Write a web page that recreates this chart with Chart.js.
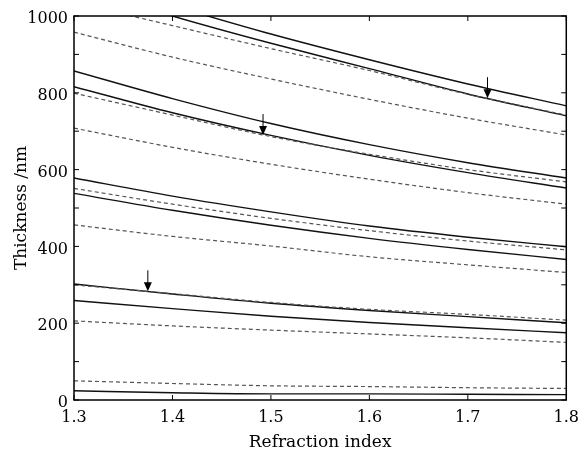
<!DOCTYPE html>
<html>
<head>
<meta charset="utf-8">
<script src="https://cdn.jsdelivr.net/npm/chart.js@4.4.0/dist/chart.umd.min.js"></script>
<style>
  html, body { margin: 0; padding: 0; background: #fff; }
</style>
</head>
<body>
<canvas id="myChart" width="587" height="451"></canvas>
<script>
// refraction index samples
var nIndex = [1.3, 1.4, 1.5, 1.6, 1.7, 1.8];

// solid curves (thickness, nm)
var s1 = [1105, 1027, 953, 886, 823, 766];
var s2 = [1080, 1000, 929, 863, 797, 740];
var s3 = [857, 785, 720, 665, 618, 578];
var s4 = [816, 748, 689, 637, 592, 552];
var s5 = [578, 531, 490, 453, 424, 399];
var s6 = [538, 494, 455, 421, 392, 366];
var s7 = [302, 276, 252, 233, 217, 201];
var s8 = [259, 238, 218, 202, 188, 175];
var s9 = [24, 19, 16, 16, 15, 14];

// dashed curves
var d1 = [1035, 975, 915, 858, 796, 742];
var d2 = [958, 893, 836, 783, 734, 690];
var d3 = [799, 742, 686, 640, 600, 568];
var d4 = [708, 658, 614, 575, 540, 510];
var d5 = [551, 510, 473, 441, 414, 391];
var d6 = [456, 426, 401, 373, 352, 332];
var d7 = [300, 277, 254, 236, 223, 208];
var d8 = [206, 193, 182, 172, 162, 150];
var d9 = [50, 43, 37, 35, 32, 30];

// arrows: position on the curve they point at
var arrowN = [1.375, 1.492, 1.72];
var arrowT = [283, 690, 786];

// ticks
var xTicks = [1.3, 1.4, 1.5, 1.6, 1.7, 1.8];
var yTicks = [0, 200, 400, 600, 800, 1000];
var yMinor = [100, 300, 500, 700, 900];

var solids = [s1, s2, s3, s4, s5, s6, s7, s8, s9];
var dashes = [d1, d2, d3, d4, d5, d6, d7, d8, d9];

function pts(arr) {
    return arr.map(function (v, i) { return { x: nIndex[i], y: v }; });
}

var datasets = [];
dashes.forEach(function (d, i) {
    datasets.push({
        label: "d" + (i + 1),
        data: pts(d),
        borderColor: "#555",
        borderWidth: 1.2,
        borderDash: [4, 3],
        pointRadius: 0,
        cubicInterpolationMode: "monotone",
        fill: false
    });
});
solids.forEach(function (s, i) {
    datasets.push({
        label: "s" + (i + 1),
        data: pts(s),
        borderColor: "#111",
        borderWidth: 1.4,
        pointRadius: 0,
        cubicInterpolationMode: "monotone",
        fill: false
    });
});

var framePlugin = {
    id: "frame",
    afterDatasetsDraw: function (chart) {
        var ctx = chart.ctx, a = chart.chartArea;
        var x = chart.scales.x, y = chart.scales.y;
        ctx.save();
        ctx.strokeStyle = "#000";
        ctx.lineWidth = 1.5;
        ctx.strokeRect(a.left, a.top, a.right - a.left, a.bottom - a.top);

        // inward tick marks
        ctx.lineWidth = 1;
        ctx.beginPath();
        xTicks.forEach(function (v) {
            var px = x.getPixelForValue(v);
            ctx.moveTo(px, a.bottom); ctx.lineTo(px, a.bottom - 5);
            ctx.moveTo(px, a.top); ctx.lineTo(px, a.top + 5);
        });
        yTicks.concat(yMinor).forEach(function (v) {
            var py = y.getPixelForValue(v);
            ctx.moveTo(a.left, py); ctx.lineTo(a.left + 5, py);
            ctx.moveTo(a.right, py); ctx.lineTo(a.right - 5, py);
        });
        ctx.stroke();

        // arrows
        ctx.fillStyle = "#000";
        arrowN.forEach(function (n, i) {
            var px = x.getPixelForValue(n);
            var py = y.getPixelForValue(arrowT[i]);
            ctx.beginPath();
            ctx.moveTo(px, py - 21);
            ctx.lineTo(px, py - 4);
            ctx.stroke();
            ctx.beginPath();
            ctx.moveTo(px - 4, py - 9);
            ctx.lineTo(px + 4, py - 9);
            ctx.lineTo(px, py);
            ctx.closePath();
            ctx.fill();
        });
        ctx.restore();
    }
};

var ctx = document.getElementById("myChart").getContext("2d");
var chart = new Chart(ctx, {
    type: "line",
    data: { datasets: datasets },
    options: {
        responsive: false,
        animation: false,
        layout: { padding: { top: 16, right: 20, left: 0, bottom: 0 } },
        plugins: { legend: { display: false }, tooltip: { enabled: false } },
        scales: {
            x: {
                type: "linear",
                min: 1.3,
                max: 1.8,
                grid: { display: false, drawTicks: false },
                border: { display: false },
                afterBuildTicks: function (s) { s.ticks = xTicks.map(function (v) { return { value: v }; }); },
                afterFit: function (s) { s.height = 51; },
                ticks: {
                    padding: 8,
                    color: "#000",
                    font: { family: "DejaVu Serif", size: 16 },
                    callback: function (v) { return v.toFixed(1); }
                },
                title: {
                    display: true,
                    text: "Refraction index",
                    color: "#000",
                    padding: { top: 0, bottom: 0 },
                    font: { family: "DejaVu Serif", size: 17, lineHeight: 1.0 }
                }
            },
            y: {
                min: 0,
                max: 1000,
                grid: { display: false, drawTicks: false },
                border: { display: false },
                afterBuildTicks: function (s) { s.ticks = yTicks.map(function (v) { return { value: v }; }); },
                afterFit: function (s) { s.width = 74; },
                ticks: {
                    padding: 6,
                    labelOffset: 3,
                    color: "#000",
                    font: { family: "DejaVu Serif", size: 16 },
                    callback: function (v) { return String(v); }
                },
                title: {
                    display: true,
                    text: "Thickness /nm",
                    color: "#000",
                    padding: { top: 11, bottom: 0 },
                    font: { family: "DejaVu Serif", size: 17, lineHeight: 1.2 }
                }
            }
        }
    },
    plugins: [framePlugin]
});
</script>
</body>
</html>
